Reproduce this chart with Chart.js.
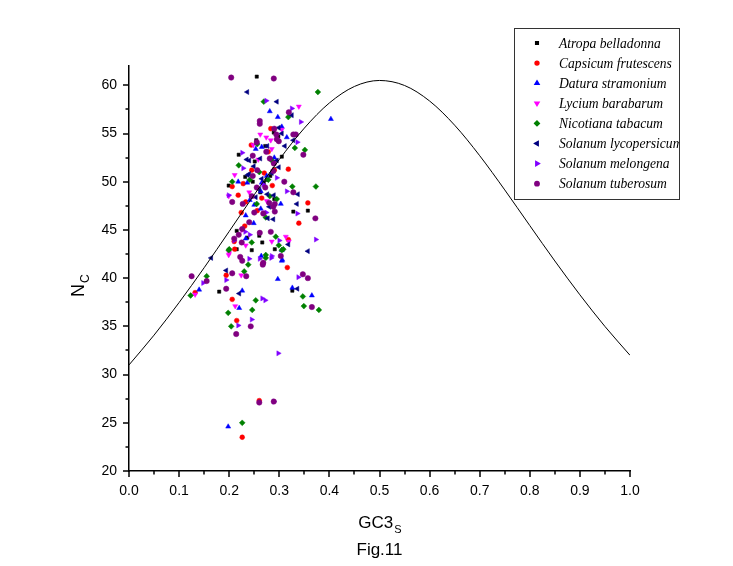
<!DOCTYPE html>
<html>
<head>
<meta charset="utf-8">
<script src="https://cdn.jsdelivr.net/npm/chart.js"></script>
<style>
html,body{margin:0;padding:0;background:#fff;}
#wrap{width:733px;height:566px;position:relative;}
canvas{display:block;}
</style>
</head>
<body>
<div id="wrap"><canvas id="c" width="733" height="566"></canvas></div>
<script>
// ---------- data ----------
const speciesNames = ["Atropa belladonna","Capsicum frutescens","Datura stramonium","Lycium barabarum","Nicotiana tabacum","Solanum lycopersicum","Solanum melongena","Solanum tuberosum"];

const atropa = [[0.255,60.9],[0.289,55.1],[0.298,54.7],[0.254,54.3],[0.272,53.7],[0.219,52.8],[0.251,52.1],[0.232,50.5],[0.199,49.6],[0.247,50.0],[0.269,49.9],[0.290,51.3],[0.328,46.9],[0.357,47.0],[0.215,44.9],[0.260,44.4],[0.266,43.7],[0.215,43.0],[0.291,43.0],[0.180,38.6],[0.326,38.7],[0.282,50.6],[0.262,48.9],[0.275,50.2],[0.290,48.2],[0.305,52.6],[0.236,44.2],[0.245,42.9]];
const capsicum = [[0.283,55.5],[0.244,53.8],[0.278,53.1],[0.245,51.2],[0.318,51.3],[0.290,51.2],[0.228,49.8],[0.206,49.5],[0.218,48.6],[0.233,47.9],[0.265,48.3],[0.357,47.8],[0.339,45.7],[0.256,47.0],[0.224,46.8],[0.231,45.4],[0.318,44.0],[0.210,43.8],[0.211,43.0],[0.316,41.1],[0.267,41.5],[0.132,38.5],[0.194,40.3],[0.206,37.8],[0.215,35.6],[0.260,27.3],[0.226,23.5],[0.270,50.9],[0.286,49.6]];
const datura = [[0.281,57.3],[0.297,56.7],[0.403,56.5],[0.305,55.7],[0.315,54.6],[0.253,53.4],[0.265,53.6],[0.236,49.9],[0.241,48.1],[0.218,50.0],[0.265,49.9],[0.263,49.0],[0.303,47.7],[0.250,47.6],[0.263,47.2],[0.233,46.5],[0.249,45.7],[0.305,42.9],[0.264,42.3],[0.306,41.9],[0.140,38.8],[0.220,36.9],[0.226,38.7],[0.297,39.9],[0.305,41.8],[0.326,39.0],[0.365,38.2],[0.198,24.6],[0.233,44.1],[0.290,52.5],[0.275,50.6]];
const lycium = [[0.339,57.8],[0.305,55.4],[0.262,54.9],[0.274,54.6],[0.283,54.3],[0.248,53.8],[0.285,53.4],[0.211,50.7],[0.199,48.5],[0.270,46.8],[0.313,44.3],[0.285,43.8],[0.233,43.4],[0.200,42.6],[0.199,42.4],[0.224,40.3],[0.212,37.1],[0.132,38.3],[0.225,45.0],[0.319,43.8],[0.258,52.3],[0.275,48.0],[0.240,48.9]];
const nicotiana = [[0.377,59.3],[0.269,58.3],[0.318,56.7],[0.331,53.5],[0.256,53.9],[0.351,53.3],[0.285,52.2],[0.219,51.7],[0.241,50.2],[0.206,50.0],[0.281,48.5],[0.295,48.2],[0.326,49.5],[0.373,49.5],[0.255,47.7],[0.273,46.3],[0.293,44.3],[0.245,43.7],[0.200,43.0],[0.299,43.4],[0.308,43.0],[0.273,42.1],[0.238,41.4],[0.155,40.2],[0.123,38.2],[0.199,42.9],[0.198,36.4],[0.204,35.0],[0.230,40.7],[0.246,36.7],[0.253,37.7],[0.273,42.4],[0.305,42.9],[0.347,38.1],[0.349,37.1],[0.379,36.7],[0.226,25.0],[0.260,51.0],[0.278,50.2]];
const lycopersicum = [[0.236,59.3],[0.295,58.3],[0.325,56.9],[0.299,55.6],[0.305,55.0],[0.328,54.3],[0.311,53.7],[0.276,53.7],[0.262,52.4],[0.235,52.3],[0.240,52.2],[0.295,52.2],[0.249,51.6],[0.299,51.5],[0.237,50.7],[0.240,50.8],[0.260,49.2],[0.276,48.7],[0.289,48.6],[0.337,48.7],[0.335,47.7],[0.280,47.4],[0.277,46.2],[0.288,46.1],[0.318,43.5],[0.357,42.8],[0.164,42.1],[0.194,40.8],[0.220,38.4],[0.336,38.9],[0.265,50.3],[0.285,50.9],[0.253,48.4]];
const melongena = [[0.274,58.4],[0.325,57.6],[0.343,56.2],[0.336,54.1],[0.226,53.0],[0.228,51.4],[0.199,48.6],[0.315,49.0],[0.336,46.7],[0.274,46.8],[0.232,44.8],[0.241,44.5],[0.300,43.9],[0.373,44.0],[0.240,42.0],[0.284,42.1],[0.148,39.5],[0.194,39.8],[0.218,35.1],[0.245,35.7],[0.261,42.0],[0.266,37.9],[0.272,37.7],[0.285,42.3],[0.289,27.2],[0.298,32.2],[0.338,40.1],[0.210,43.9],[0.268,49.7],[0.295,50.4]];
const tuberosum = [[0.204,60.8],[0.289,60.7],[0.319,57.2],[0.261,56.3],[0.261,56.0],[0.290,55.5],[0.294,54.9],[0.295,54.4],[0.299,54.2],[0.328,54.9],[0.333,54.9],[0.255,54.1],[0.274,53.1],[0.247,52.7],[0.348,52.8],[0.281,52.4],[0.289,51.9],[0.256,51.2],[0.288,51.1],[0.247,50.6],[0.245,48.5],[0.255,49.4],[0.272,49.4],[0.280,47.8],[0.291,47.7],[0.206,47.9],[0.227,47.7],[0.328,48.9],[0.310,50.0],[0.372,46.2],[0.288,47.4],[0.250,46.8],[0.268,46.7],[0.291,46.9],[0.240,45.8],[0.226,45.1],[0.219,44.5],[0.261,44.7],[0.283,44.8],[0.210,44.1],[0.225,43.7],[0.222,42.2],[0.268,41.6],[0.125,40.2],[0.155,39.7],[0.194,38.9],[0.206,40.5],[0.214,34.2],[0.226,41.8],[0.234,40.2],[0.243,35.0],[0.260,27.1],[0.289,27.2],[0.267,41.4],[0.303,42.3],[0.347,40.4],[0.357,40.0],[0.365,37.0]];

// expected Nc curve, sampled values
const curveX = [0,0.05,0.1,0.15,0.2,0.25,0.3,0.35,0.4,0.45,0.5,0.55,0.6,0.65,0.7,0.75,0.8,0.85,0.9,0.95,1.0];
const curveY = [31.0,34.09,37.47,41.08,44.85,48.65,52.3,55.56,58.17,59.88,60.5,59.98,58.37,55.86,52.7,49.15,45.45,41.78,38.27,34.99,32.0];

const xTicks = [0,0.1,0.2,0.3,0.4,0.5,0.6,0.7,0.8,0.9,1.0];
const yTicks = [20,25,30,35,40,45,50,55,60];

// ---------- styles ----------
const seriesData = [atropa,capsicum,datura,lycium,nicotiana,lycopersicum,melongena,tuberosum];
const colors = ["#000000","#FF0000","#0000FF","#FF00FF","#008000","#000080","#8000FF","#800080"];
const styles = ["rect","circle","triangle","triangle","rectRot","triangle","triangle","circle"];
const rotations = [0,0,0,180,0,270,90,0];
const radii = [2.3,2.4,2.9,2.9,2.9,2.9,2.9,2.7];

const datasets = seriesData.map((arr,i)=>({
  type:'scatter',
  label: speciesNames[i],
  data: arr.map(p=>({x:p[0],y:p[1]})),
  pointStyle: styles[i],
  rotation: rotations[i],
  pointRadius: radii[i],
  pointHoverRadius: radii[i],
  backgroundColor: colors[i],
  borderColor: colors[i],
  borderWidth: 0.5,
  order: 9 - i
}));
datasets.push({
  type:'line',
  label:'expected',
  data: curveX.map((x,i)=>({x:x,y:curveY[i]})),
  borderColor:'#000',
  borderWidth:1,
  pointRadius:0,
  fill:false,
  cubicInterpolationMode:'monotone',
  order: 0
});

const AXIS_FONT = "Liberation Sans, Arial, sans-serif";

// minor/major outward tick marks + titles + legend
const decorPlugin = {
  id:'decor',
  afterDraw(chart){
    const ctx = chart.ctx;
    const xs = chart.scales.x, ys = chart.scales.y;
    const area = chart.chartArea;
    ctx.save();
    ctx.strokeStyle = '#000';
    ctx.lineWidth = 1.5;
    // x ticks
    for (let i=0;i<xTicks.length;i++){
      const px = Math.round(xs.getPixelForValue(xTicks[i]));
      ctx.beginPath(); ctx.moveTo(px, area.bottom); ctx.lineTo(px, area.bottom+6); ctx.stroke();
      if (i < xTicks.length-1){
        const mx = Math.round(xs.getPixelForValue((xTicks[i]+xTicks[i+1])/2));
        ctx.beginPath(); ctx.moveTo(mx, area.bottom); ctx.lineTo(mx, area.bottom+3.5); ctx.stroke();
      }
    }
    // y ticks
    for (let i=0;i<yTicks.length;i++){
      const py = Math.round(ys.getPixelForValue(yTicks[i]));
      ctx.beginPath(); ctx.moveTo(area.left, py); ctx.lineTo(area.left-6, py); ctx.stroke();
      const mv = yTicks[i]+2.5;
      if (mv <= ys.max){
        const my = Math.round(ys.getPixelForValue(mv));
        ctx.beginPath(); ctx.moveTo(area.left, my); ctx.lineTo(area.left-3.5, my); ctx.stroke();
      }
    }
    // x title GC3s
    ctx.fillStyle = '#000';
    ctx.textBaseline = 'alphabetic';
    ctx.textAlign = 'left';
    const cx = (area.left+area.right)/2;
    ctx.font = '11px ' + AXIS_FONT;
    const subW = ctx.measureText('S').width;
    ctx.font = '17px ' + AXIS_FONT;
    const main = 'GC3';
    const mainW = ctx.measureText(main).width;
    const startX = cx - (mainW+subW)/2;
    ctx.fillText(main, startX, 528);
    ctx.font = '11px ' + AXIS_FONT;
    ctx.fillText('S', startX+mainW+1, 533);
    // Fig.11
    ctx.font = '17px ' + AXIS_FONT;
    ctx.textAlign = 'center';
    ctx.fillText('Fig.11', cx, 555);
    // y title Nc (rotated)
    ctx.save();
    ctx.translate(84, (area.top+area.bottom)/2 + 18);
    ctx.rotate(-Math.PI/2);
    ctx.textAlign = 'left';
    ctx.font = '18px ' + AXIS_FONT;
    const nW = ctx.measureText('N').width;
    ctx.fillText('N', -nW/2 - 4, 0);
    ctx.font = '12px ' + AXIS_FONT;
    ctx.fillText('C', nW/2 - 3, 5);
    ctx.restore();

    // legend
    const lx = 514, ly = 28, lw = 165, lh = 171;
    ctx.save();
    ctx.beginPath(); ctx.rect(lx, ly, lw, lh); ctx.clip();
    ctx.font = 'italic 13.6px "Liberation Serif", "Times New Roman", serif';
    ctx.textAlign = 'left';
    ctx.textBaseline = 'middle';
    for (let i=0;i<speciesNames.length;i++){
      const yy = 43 + i*20.1;
      const opt = {pointStyle: styles[i], rotation: rotations[i], radius: radii[i]*0.8, borderWidth: 0.5};
      ctx.fillStyle = colors[i];
      ctx.strokeStyle = colors[i];
      if (Chart.helpers && Chart.helpers.drawPoint){
        Chart.helpers.drawPoint(ctx, opt, 537, yy);
      } else {
        ctx.beginPath(); ctx.arc(537, yy, 2.2, 0, Math.PI*2); ctx.fill();
      }
      ctx.fillStyle = '#000';
      ctx.fillText(speciesNames[i], 559, yy+1);
    }
    ctx.restore();
    ctx.lineWidth = 1;
    ctx.strokeStyle = '#333';
    ctx.strokeRect(lx+0.5, ly+0.5, lw, lh);
    ctx.restore();
  }
};

new Chart(document.getElementById('c'), {
  data: { datasets },
  options: {
    responsive:false,
    animation:false,
    events:[],
    layout:{ padding:{ left:0, right:103, top:66, bottom:0 } },
    plugins:{ legend:{display:false}, tooltip:{enabled:false}, title:{display:false} },
    scales:{
      x:{
        type:'linear', min:0, max:1,
        grid:{ display:false, drawTicks:true, tickLength:6 },
        border:{ display:true, color:'#000', width:1.5 },
        afterBuildTicks: s => { s.ticks = xTicks.map(v=>({value:v})); },
        afterFit: s => { s.height = 95; },
        ticks:{ color:'#000', font:{ family:AXIS_FONT, size:14 }, padding:6, maxRotation:0, autoSkip:false,
          callback: v => Number(v).toFixed(1) }
      },
      y:{
        type:'linear', min:20, max:62,
        grid:{ display:false, drawTicks:true, tickLength:6 },
        border:{ display:true, color:'#000', width:1.5 },
        afterBuildTicks: s => { s.ticks = yTicks.map(v=>({value:v})); },
        afterFit: s => { s.width = 129; },
        ticks:{ color:'#000', font:{ family:AXIS_FONT, size:14 }, padding:6, autoSkip:false,
          callback: v => String(v) }
      }
    }
  },
  plugins:[decorPlugin]
});
</script>
</body>
</html>
